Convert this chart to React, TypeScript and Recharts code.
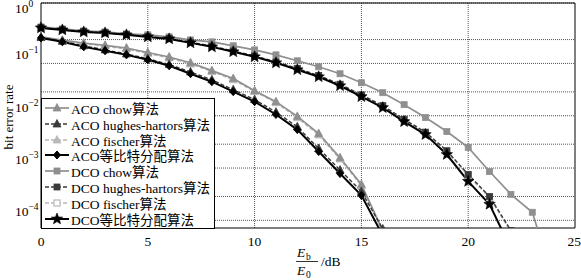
import React from 'react';
import { LineChart, Line, XAxis, YAxis, CartesianGrid, Legend, ReferenceArea } from 'recharts';

const FONT = '"Liberation Serif", "Noto Sans CJK SC", serif';

// Eb/E0 in dB, one point per dB
const X_DB = [0, 1, 2, 3, 4, 5, 6, 7, 8, 9, 10, 11, 12, 13, 14, 15, 16, 17, 18, 19, 20, 21, 22, 23, 24];
const X_TICKS = [0, 5, 10, 15, 20, 25];
const Y_TICKS = [1e-4, 1e-3, 1e-2, 1e-1, 1];

const ACO_CHOW = [0.225, 0.195, 0.172, 0.155, 0.138, 0.113, 0.093, 0.072, 0.051, 0.036, 0.021, 0.013, 0.0068, 0.0032, 0.0011, 0.00034, 0.000044];
const ACO_HUGHES = [0.22, 0.185, 0.152, 0.127, 0.106, 0.086, 0.067, 0.048, 0.034, 0.022, 0.0142, 0.0082, 0.0043, 0.00165, 0.00064, 0.00025, 0.000048];
const ACO_FISCHER = [0.218, 0.19, 0.166, 0.149, 0.132, 0.108, 0.089, 0.068, 0.049, 0.034, 0.0203, 0.0124, 0.0064, 0.003, 0.00104, 0.00032, 0.000042];
const ACO_EQUAL = [0.215, 0.181, 0.145, 0.122, 0.102, 0.082, 0.063, 0.0444, 0.0313, 0.0202, 0.013, 0.0074, 0.0038, 0.00145, 0.00055, 0.00021, 0.000036];

const DCO_CHOW = [0.349, 0.32, 0.293, 0.28, 0.257, 0.246, 0.225, 0.197, 0.181, 0.152, 0.127, 0.102, 0.0786, 0.0604, 0.0444, 0.0299, 0.0193, 0.0114, 0.00645, 0.00349, 0.00173, 0.0006, 0.00022, 0.0001, 0.000005];
const DCO_HUGHES = [0.338, 0.31, 0.285, 0.27, 0.25, 0.229, 0.21, 0.178, 0.15, 0.121, 0.097, 0.075, 0.056, 0.041, 0.028, 0.0175, 0.0109, 0.006, 0.0034, 0.0015, 0.00053, 0.0002, 0.000045];
const DCO_FISCHER = [0.336, 0.308, 0.283, 0.268, 0.248, 0.227, 0.208, 0.176, 0.148, 0.119, 0.096, 0.074, 0.055, 0.04, 0.0275, 0.0171, 0.0106, 0.0058, 0.0033, 0.00145, 0.0005, 0.00019, 0.000042];
const DCO_EQUAL = [0.334, 0.306, 0.28, 0.268, 0.246, 0.225, 0.206, 0.173, 0.145, 0.117, 0.0936, 0.072, 0.053, 0.0389, 0.0262, 0.0162, 0.01, 0.0054, 0.00306, 0.00127, 0.00039, 0.000142, 0.00002];

type Marker = 'triangle' | 'diamond' | 'square' | 'star';

interface SeriesDef {
  key: string;
  name: string;
  values: number[];
  color: string;
  dash?: string;
  marker: Marker;
  hollow?: boolean;
  width: number;
  z: number;
}

const GREY = '#8f8f8f';
const DARK = '#3a3a3a';
const LIGHT = '#b8b8b8';

const SERIES: SeriesDef[] = [
  { key: 'acoChow', name: 'ACO chow算法', values: ACO_CHOW, color: GREY, marker: 'triangle', width: 1.7, z: 1 },
  { key: 'acoHughes', name: 'ACO hughes-hartors算法', values: ACO_HUGHES, color: DARK, dash: '4 2', marker: 'triangle', width: 1.4, z: 2 },
  { key: 'acoFischer', name: 'ACO fischer算法', values: ACO_FISCHER, color: LIGHT, dash: '4 2', marker: 'triangle', width: 1.4, z: 0 },
  { key: 'acoEqual', name: 'ACO等比特分配算法', values: ACO_EQUAL, color: '#000', marker: 'diamond', width: 2, z: 3 },
  { key: 'dcoChow', name: 'DCO chow算法', values: DCO_CHOW, color: GREY, marker: 'square', width: 1.7, z: 1 },
  { key: 'dcoHughes', name: 'DCO hughes-hartors算法', values: DCO_HUGHES, color: DARK, dash: '4 2', marker: 'square', width: 1.4, z: 2 },
  { key: 'dcoFischer', name: 'DCO fischer算法', values: DCO_FISCHER, color: LIGHT, dash: '4 2', marker: 'square', hollow: true, width: 1.4, z: 0 },
  { key: 'dcoEqual', name: 'DCO等比特分配算法', values: DCO_EQUAL, color: '#000', marker: 'star', width: 2, z: 3 },
];

const chartData = X_DB.map((x, i) => {
  const row: Record<string, number | undefined> = { x };
  SERIES.forEach(s => { row[s.key] = s.values[i]; });
  return row;
});

// minor + major log grid lines
const GRID_Y: number[] = [];
for (let d = -5; d <= -1; d++) {
  for (let k = 1; k <= 9; k++) {
    const v = k * Math.pow(10, d);
    if (v >= 5e-5) GRID_Y.push(v);
  }
}
GRID_Y.push(1);

const starPoints = (cx: number, cy: number, ro: number, ri: number) => {
  const pts: string[] = [];
  for (let i = 0; i < 10; i++) {
    const r = i % 2 === 0 ? ro : ri;
    const a = -Math.PI / 2 + (i * Math.PI) / 5;
    pts.push(`${cx + r * Math.cos(a)},${cy + r * Math.sin(a)}`);
  }
  return pts.join(' ');
};

const markerShape = (s: SeriesDef, cx: number, cy: number, key?: React.Key) => {
  const fill = s.hollow ? '#fff' : s.color;
  switch (s.marker) {
    case 'triangle':
      return <polygon key={key} points={`${cx},${cy - 4.5} ${cx - 4},${cy + 3} ${cx + 4},${cy + 3}`} fill={fill} stroke={s.color} strokeWidth={0.8} />;
    case 'diamond':
      return <polygon key={key} points={`${cx},${cy - 4} ${cx + 3.5},${cy} ${cx},${cy + 4} ${cx - 3.5},${cy}`} fill={fill} stroke={s.color} />;
    case 'square':
      return <rect key={key} x={cx - 3} y={cy - 3} width={6} height={6} fill={fill} stroke={s.color} strokeWidth={s.hollow ? 1.2 : 0.8} />;
    default:
      return <polygon key={key} points={starPoints(cx, cy, 6, 2.6)} fill={fill} stroke={s.color} strokeWidth={0.6} />;
  }
};

const makeDot = (s: SeriesDef) => (props: any) => {
  const { cx, cy, index } = props;
  if (cx == null || cy == null || Number.isNaN(cy)) return <g key={`${s.key}-${index}`} />;
  return markerShape(s, cx, cy, `${s.key}-${index}`);
};

const YTick = (props: any) => {
  const { y, payload } = props;
  const exp = Math.round(Math.log10(payload.value));
  const expText = exp === 0 ? '0' : `\u2212${-exp}`;
  return (
    <text x={15} y={y + 4} fontFamily={FONT} fontSize={13.5} fill="#000">
      10<tspan dy={-6} fontSize={9.5}>{expText}</tspan>
    </text>
  );
};

const XLabel = () => (
  <g fontFamily={FONT} fill="#000">
    <text x={297} y={257} fontSize={13.5} fontStyle="italic">E</text>
    <text x={306} y={260} fontSize={9.5}>b</text>
    <line x1={296} x2={318} y1={261.5} y2={261.5} stroke="#000" strokeWidth={0.8} />
    <text x={297} y={275} fontSize={13.5} fontStyle="italic">E</text>
    <text x={306} y={278} fontSize={9.5}>0</text>
    <text x={321} y={266} fontSize={13.5}>/dB</text>
  </g>
);

const YLabel = () => (
  <text x={13} y={117} transform="rotate(-90 13 117)" textAnchor="middle" fontFamily={FONT} fontSize={13} fill="#000">
    bit error rate
  </text>
);

const LegendIcon = ({ s }: { s: SeriesDef }) => (
  <svg width={25} height={12} style={{ marginLeft: 3, flex: 'none' }}>
    <line x1={0} x2={24} y1={6} y2={6} stroke={s.color} strokeWidth={s.width} strokeDasharray={s.dash} />
    {markerShape(s, 12, 6)}
  </svg>
);

const renderLegend = () => (
  <div style={{ width: 174, height: 131, boxSizing: 'border-box', border: '1px solid #000', background: '#fff', paddingTop: 1, fontFamily: FONT }}>
    {SERIES.map(s => (
      <div key={s.key} style={{ height: 15.85, display: 'flex', alignItems: 'center', fontSize: 13.5, whiteSpace: 'nowrap', color: '#000' }}>
        <LegendIcon s={s} />
        <span style={{ marginLeft: 1 }}>{s.name}</span>
      </div>
    ))}
  </div>
);

const drawOrder = [...SERIES].sort((a, b) => a.z - b.z);

export default function App() {
  return (
    <div style={{ width: 581, height: 280, background: '#fff' }}>
      <style>{'body{margin:0}'}</style>
      <LineChart width={581} height={280} data={chartData} margin={{ top: 3, right: 6, bottom: 0, left: 0 }}>
        <CartesianGrid
          horizontalValues={GRID_Y}
          verticalValues={[5, 10, 15, 20]}
          stroke="#555"
          strokeDasharray="1 1"
          strokeWidth={1}
        />
        <XAxis
          dataKey="x"
          type="number"
          domain={[0, 25]}
          ticks={X_TICKS}
          axisLine={false}
          tickLine={false}
          height={52}
          tick={{ fontFamily: FONT, fontSize: 13.5, fill: '#000' }}
          tickMargin={2}
          label={XLabel}
        />
        <YAxis
          type="number"
          scale="log"
          domain={[5e-5, 1]}
          allowDataOverflow
          ticks={Y_TICKS}
          axisLine={false}
          tickLine={false}
          width={41}
          tick={YTick}
          label={YLabel}
        />
        {drawOrder.map(s => (
          <Line
            key={s.key}
            dataKey={s.key}
            name={s.name}
            stroke={s.color}
            strokeWidth={s.width}
            strokeDasharray={s.dash}
            dot={makeDot(s)}
            activeDot={false}
            isAnimationActive={false}
          />
        ))}
        <ReferenceArea x1={0} x2={25} y1={5e-5} y2={1} fill="none" stroke="#000" strokeWidth={1} ifOverflow="visible" />
        <Legend
          layout="vertical"
          align="center"
          verticalAlign="middle"
          content={renderLegend}
          wrapperStyle={{ left: 41, top: 98, width: 174, height: 131 }}
        />
      </LineChart>
    </div>
  );
}
